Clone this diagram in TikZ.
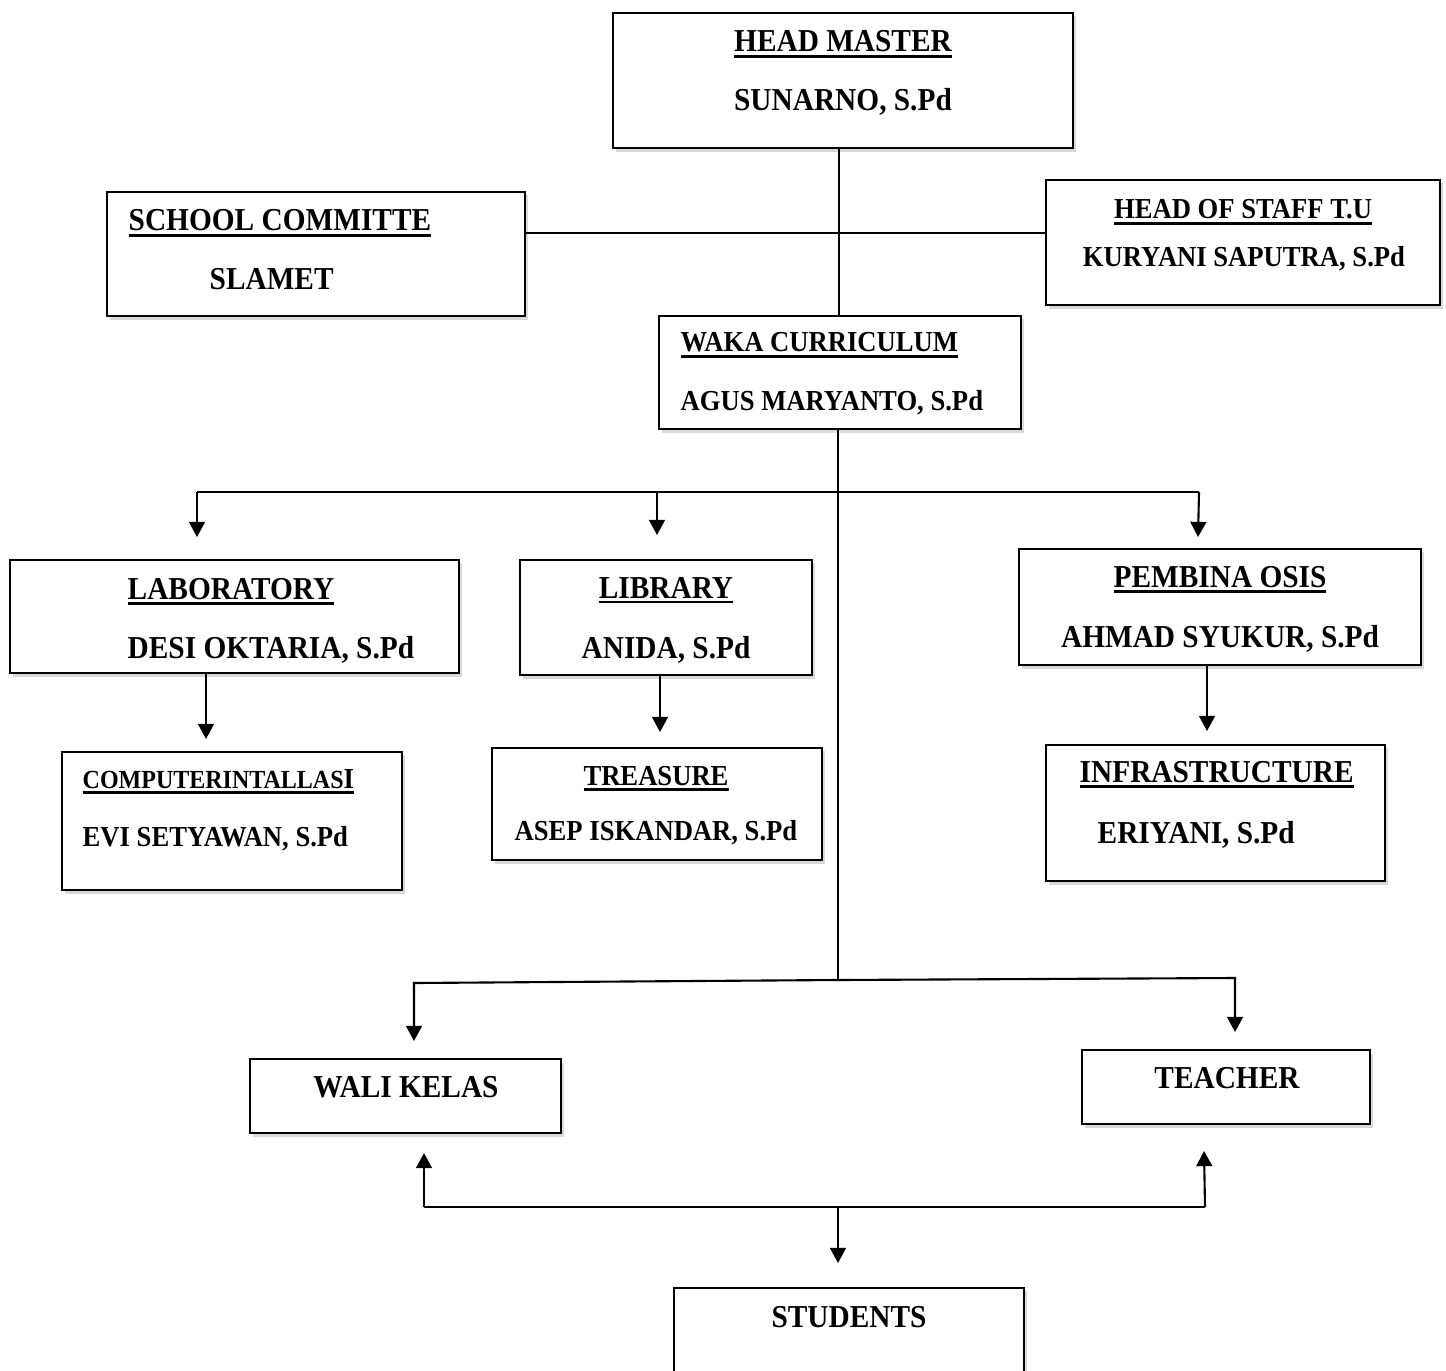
\documentclass[tikz,border=0pt]{standalone}
\usepackage{fontspec}
\setmainfont{Liberation Serif}[FakeStretch=0.92]
\usepackage{tikz}
\usetikzlibrary{arrows.meta,shadows}
\newcommand{\txtbig}{\fontsize{9.07pt}{11pt}\selectfont\bfseries}
\newcommand{\txtsmall}{\fontsize{8.23pt}{10pt}\selectfont\bfseries}
\newcommand{\txttiny}{\fontsize{7.42pt}{9pt}\selectfont\bfseries}
\newcommand{\ulined}[1]{\leavevmode\vtop{\hbox{#1}\kern0.7pt\hrule height 0.8pt}}
\tikzset{
  % Specifications for style of nodes:
  base/.style = {
    rectangle,
    draw=black,
    line width=0.7pt,
    inner sep=0pt,
    outer sep=0pt,
    fill=white,
    drop shadow={shadow xshift=0.8pt, shadow yshift=-1pt, opacity=0.3}
  },
  big/.style = {
    inner sep=0pt,
    font=\txtbig
  },
  small/.style = {
    inner sep=0pt,
    font=\txtsmall
  },
  line/.style = {
    line width=0.6pt
  },
  arrow/.style = {
    line,
    -{Triangle[length=4.3pt, width=4.5pt]}
  },
}

\begin{document}
\begin{tikzpicture}[x=0.01cm, y=-0.01cm]
    \useasboundingbox (0,0) rectangle (1446,1370);
    % Specification of boxes (centre, size)
    \node[base, minimum width=4.60cm, minimum height=1.35cm] (headmaster) at (843,80.5)   {};
    \node[base, minimum width=4.18cm, minimum height=1.24cm] (committee)  at (316,254)    {};
    \node[base, minimum width=3.94cm, minimum height=1.25cm] (staff)      at (1243,242.5) {};
    \node[base, minimum width=3.62cm, minimum height=1.13cm] (waka)       at (840,372.5)  {};
    \node[base, minimum width=4.49cm, minimum height=1.13cm] (lab)        at (234.5,616.5) {};
    \node[base, minimum width=2.92cm, minimum height=1.15cm] (library)    at (666,617.5)  {};
    \node[base, minimum width=4.02cm, minimum height=1.16cm] (osis)       at (1220,607)   {};
    \node[base, minimum width=3.40cm, minimum height=1.38cm] (computer)   at (232,821)    {};
    \node[base, minimum width=3.30cm, minimum height=1.12cm] (treasure)   at (657,804)    {};
    \node[base, minimum width=3.39cm, minimum height=1.36cm] (infra)      at (1215.5,813) {};
    \node[base, minimum width=3.11cm, minimum height=0.74cm] (wali)       at (405.5,1096) {};
    \node[base, minimum width=2.88cm, minimum height=0.74cm] (teacher)    at (1226,1087)  {};
    \node[base, minimum width=3.50cm, minimum height=1.32cm] (students)   at (849,1354)   {};

    % Texts of the boxes
    \node[big, anchor=base]        (headmasterT) at (843,52)   {\ulined{HEAD MASTER}};
    \node[big, anchor=base]        (headmasterN) at (843,111)  {SUNARNO, S.Pd};
    \node[big, anchor=base west]   (committeeT)  at (128,231)  {\ulined{SCHOOL COMMITTE}};
    \node[big, anchor=base west]   (committeeN)  at (209,290)  {SLAMET};
    \node[small, anchor=base]      (staffT)      at (1243,219) {\ulined{HEAD OF STAFF T.U}};
    \node[small, anchor=base]      (staffN)      at (1244,267) {KURYANI SAPUTRA, S.Pd};
    \node[small, anchor=base west] (wakaT)       at (680,352)  {\ulined{WAKA CURRICULUM}};
    \node[small, anchor=base west] (wakaN)       at (680,410)  {AGUS MARYANTO, S.Pd};
    \node[big, anchor=base west]   (labT)        at (127,599)  {\ulined{LABORATORY}};
    \node[big, anchor=base west]   (labN)        at (127,658)  {DESI OKTARIA, S.Pd};
    \node[big, anchor=base]        (libraryT)    at (666,598)  {\ulined{LIBRARY}};
    \node[big, anchor=base]        (libraryN)    at (666,658)  {ANIDA, S.Pd};
    \node[big, anchor=base]        (osisT)       at (1220,587) {\ulined{PEMBINA OSIS}};
    \node[big, anchor=base]        (osisN)       at (1220,647) {AHMAD SYUKUR, S.Pd};
    \node[small, anchor=base west] (computerT)   at (82,788)   {\ulined{{\txttiny COMPUTERINTALLAS}I}};
    \node[small, anchor=base west] (computerN)   at (82,846)   {EVI SETYAWAN, S.Pd};
    \node[small, anchor=base]      (treasureT)   at (656,785)  {\ulined{TREASURE}};
    \node[small, anchor=base]      (treasureN)   at (656,840)  {ASEP ISKANDAR, S.Pd};
    \node[big, anchor=base west]   (infraT)      at (1079,782) {\ulined{INFRASTRUCTURE}};
    \node[big, anchor=base west]   (infraN)      at (1097,843) {ERIYANI, S.Pd};
    \node[big, anchor=base]        (waliT)       at (406,1097) {WALI KELAS};
    \node[big, anchor=base]        (teacherT)    at (1227,1088) {TEACHER};
    \node[big, anchor=base]        (studentsT)   at (849,1327) {STUDENTS};

    % Junctions and arrow ends
    \coordinate (top)     at (839,233);
    \coordinate (busL)    at (197,492);
    \coordinate (busM)    at (657,492);
    \coordinate (busR)    at (1199,492);
    \coordinate (labIn)   at (197,537);
    \coordinate (libIn)   at (657,535);
    \coordinate (osisIn)  at (1198,537);
    \coordinate (compIn)  at (206,739);
    \coordinate (treIn)   at (660,732);
    \coordinate (infIn)   at (1207,731);
    \coordinate (fork)    at (838,980);
    \coordinate (waliTn)  at (414,983);
    \coordinate (waliIn)  at (414,1041);
    \coordinate (teachTn) at (1235,978);
    \coordinate (teachIn) at (1235,1032);
    \coordinate (botL)    at (424,1207);
    \coordinate (botM)    at (838,1207);
    \coordinate (botR)    at (1205,1207);
    \coordinate (waliUp)  at (424,1153);
    \coordinate (teachUp) at (1204,1151);
    \coordinate (studIn)  at (838,1263);

    % Connectors
    \draw[line] (headmaster.south -| top) -- (waka.north -| top);
    \draw[line] (committee.east |- top) -- (staff.west |- top);
    \draw[line] (waka.south -| fork) -- (fork);
    \draw[line] (busL) -- (busR);
    \draw[arrow] (busL) -- (labIn);
    \draw[arrow] (busM) -- (libIn);
    \draw[arrow] (busR) -- (osisIn);
    \draw[arrow] (lab.south -| compIn) -- (compIn);
    \draw[arrow] (library.south -| treIn) -- (treIn);
    \draw[arrow] (osis.south -| infIn) -- (infIn);
    \draw[arrow] (fork) -- (waliTn) -- (waliIn);
    \draw[arrow] (fork) -- (teachTn) -- (teachIn);
    \draw[line] (botL) -- (botR);
    \draw[arrow] (botL) -- (waliUp);
    \draw[arrow] (botR) -- (teachUp);
    \draw[arrow] (botM) -- (studIn);
\end{tikzpicture}
\end{document}
